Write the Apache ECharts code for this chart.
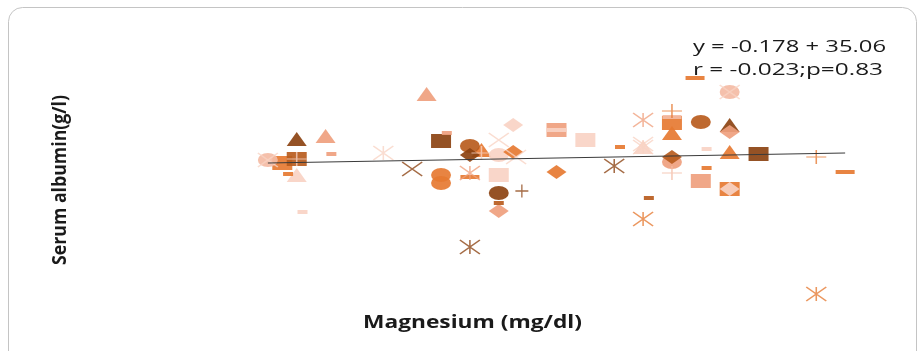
<!DOCTYPE html>
<html>
<head>
<meta charset="utf-8">
<style>
  html, body { margin: 0; padding: 0; background: #fff; }
  #chart { width: 919px; height: 351px; }
</style>
<script src="https://cdn.jsdelivr.net/npm/echarts@6/dist/echarts.min.js"></script>
</head>
<body>
<div id="chart"></div>
<script>
// points grouped by colour + marker; [magnesium mg/dl, serum albumin g/l]
const brownTriangle = [[1.70, 37.1], [3.20, 38.5]];
const brownSquare = [[2.20, 36.9], [3.30, 35.6]];
const brownDiamond = [[2.30, 35.5]];
const brownCircle = [[2.40, 31.7]];
const brownPlus = [[2.48, 31.9]];
const brownX = [[2.10, 34.1]];
const brownStar = [[2.80, 34.4], [2.30, 26.3]];

const dkOrangeCircle = [[2.30, 36.4], [3.10, 38.8]];
const dkOrangeSquare = [[1.70, 35.1]];
const dkOrangeDash = [[2.40, 30.7], [2.92, 31.2]];
const dkOrangeDiamond = [[3.00, 35.3]];

const orangeSquare = [[1.65, 34.7], [3.00, 38.7], [3.20, 32.1]];
const orangeCircle = [[2.20, 33.5], [2.20, 32.7]];
const orangeTriangle = [[2.34, 36.0], [3.00, 37.7], [3.20, 35.8]];
const orangeDiamond = [[2.45, 35.8], [2.60, 33.8]];
const orangeDashSm = [[1.67, 33.6], [2.82, 36.3], [3.12, 34.2]];
const orangeDashLg = [[2.30, 33.3], [3.08, 43.2], [3.60, 33.8]];
const orangePlus = [[3.00, 39.9], [3.50, 35.3]];
const orangeStar = [[2.90, 29.1], [3.50, 21.6]];

const salmonTriangle = [[1.80, 37.4], [2.15, 41.6]];
const salmonSquare = [[2.60, 38.0], [3.10, 32.9]];
const salmonDiamond = [[3.20, 37.8], [2.40, 29.9]];
const salmonCircle = [[3.00, 34.8]];
const salmonDash = [[1.82, 35.6], [2.22, 37.7]];
const salmonStar = [[2.90, 39.0], [2.30, 33.7]];

const ltSalmonCircle = [[1.60, 35.0], [3.20, 41.8]];
const ltSalmonDash = [[3.00, 39.3]];
const ltSalmonPlus = [[3.00, 33.7]];

const pinkTriangle = [[1.70, 33.5], [2.90, 36.3]];
const pinkSquare = [[2.70, 37.0], [2.40, 33.5]];
const pinkDiamond = [[2.45, 38.5], [3.20, 32.1]];
const pinkCircle = [[2.40, 35.5]];
const pinkDash = [[1.72, 29.8], [3.12, 36.1]];
const pinkDashLg = [[2.60, 38.0]];
const pinkX = [[2.40, 37.0], [2.46, 35.3], [1.60, 35.0], [3.20, 41.8], [2.90, 36.6]];
const pinkStar = [[2.00, 35.7], [2.90, 36.3]];
const pinkPlus = [[1.70, 35.1], [2.34, 35.7]];

// fitted line y = -0.178 + 35.06
const trendX = [1.60, 3.60];
const trendY = [34.7, 35.7];

const eqLines = ['y = -0.178 + 35.06', 'r = -0.023;p=0.83'];
const xTitle = 'Magnesium (mg/dl)';
const yTitle = 'Serum albumin(g/l)';

const col = {
    brown: '#8C4312',
    dkOrange: '#B85C1E',
    orange: '#E67A32',
    salmon: '#EFA07E',
    ltSalmon: '#F4BBA4',
    pink: '#F8D3C4'
};
const X_PATH = 'path://M0,0L10,10M10,0L0,10';
const STAR_PATH = 'path://M0,0L10,10M10,0L0,10M5,0L5,10';
const PLUS_PATH = 'path://M5,0L5,10M0,5L10,5';

function pts(data, color, symbol, size) {
    return {
        type: 'scatter',
        data: data,
        symbol: symbol,
        symbolSize: size || [20, 14],
        itemStyle: {color: color, opacity: 0.92},
        emphasis: {disabled: true},
        z: 2
    };
}
function lines(data, color, path, size) {
    return {
        type: 'scatter',
        data: data,
        symbol: path,
        symbolSize: size || [20, 14],
        itemStyle: {color: 'rgba(0,0,0,0)', borderColor: color, borderWidth: 1.3, opacity: 0.78},
        emphasis: {disabled: true},
        z: 2
    };
}
const DASH_SM = [10, 4];
const DASH_LG = [19, 4];

const series = [
    pts(pinkSquare, col.pink, 'rect'),
    pts(salmonSquare, col.salmon, 'rect'),
    pts(pinkDashLg, col.pink, 'rect', DASH_LG),
    pts(orangeSquare, col.orange, 'rect'),
    pts(pinkDiamond, col.pink, 'diamond'),
    pts(brownSquare, col.brown, 'rect'),
    pts(dkOrangeSquare, col.dkOrange, 'rect'),
    pts(brownTriangle, col.brown, 'triangle'),
    pts(salmonDiamond, col.salmon, 'diamond'),
    pts(salmonTriangle, col.salmon, 'triangle'),
    pts(pinkTriangle, col.pink, 'triangle'),
    pts(orangeTriangle, col.orange, 'triangle'),
    pts(dkOrangeCircle, col.dkOrange, 'circle'),
    pts(brownDiamond, col.brown, 'diamond'),
    pts(orangeCircle, col.orange, 'circle'),
    pts(brownCircle, col.brown, 'circle'),
    pts(salmonCircle, col.salmon, 'circle'),
    pts(dkOrangeDiamond, col.dkOrange, 'diamond'),
    pts(ltSalmonCircle, col.ltSalmon, 'circle'),
    pts(pinkCircle, col.pink, 'circle'),
    pts(orangeDiamond, col.orange, 'diamond'),
    pts(orangeDashSm, col.orange, 'rect', DASH_SM),
    pts(orangeDashLg, col.orange, 'rect', DASH_LG),
    pts(dkOrangeDash, col.dkOrange, 'rect', DASH_SM),
    pts(salmonDash, col.salmon, 'rect', DASH_SM),
    pts(ltSalmonDash, col.ltSalmon, 'rect', DASH_LG),
    pts(pinkDash, col.pink, 'rect', DASH_SM),
    lines(brownPlus, col.brown, PLUS_PATH, [13, 13]),
    lines(orangePlus, col.orange, PLUS_PATH),
    lines(ltSalmonPlus, col.ltSalmon, PLUS_PATH),
    lines(pinkPlus, col.pink, PLUS_PATH),
    lines(brownX, col.brown, X_PATH),
    lines(pinkX, col.pink, X_PATH),
    lines(brownStar, col.brown, STAR_PATH),
    lines(orangeStar, col.orange, STAR_PATH),
    lines(salmonStar, col.salmon, STAR_PATH),
    lines(pinkStar, col.pink, STAR_PATH),
    {
        type: 'line',
        data: trendX.map((x, i) => [x, trendY[i]]),
        symbol: 'none',
        lineStyle: {color: '#3a3a3a', width: 1.2},
        emphasis: {disabled: true},
        z: 3
    }
];

// the original picture is stretched sideways, so texts get fitted widths
const ctx = document.createElement('canvas').getContext('2d');
function fit(text, font, target) {
    ctx.font = font;
    return target / ctx.measureText(text).width;
}
const EQ_FONT = '17px "Open Sans"';
const XT_FONT = 'bold 17px "Open Sans"';
const YT_FONT = 'bold 14px "Open Sans"';

function label(text, font, x, y, target, extra) {
    return Object.assign({
        type: 'text',
        x: x,
        y: y,
        scaleX: fit(text, font, target),
        style: {text: text, font: font, fill: '#1a1a1a', textAlign: 'left', textVerticalAlign: 'middle'},
        z: 10
    }, extra || {});
}

const option = {
    animation: false,
    grid: {left: 239, right: 45, top: 60, bottom: 41},
    xAxis: {type: 'value', min: 1.5, max: 3.7, show: false},
    yAxis: {type: 'value', min: 20, max: 45, show: false},
    graphic: [
        {
            type: 'rect',
            shape: {x: 8.5, y: 7.5, width: 908, height: 380, r: 14},
            style: {fill: 'none', stroke: '#c4c4c4', lineWidth: 1},
            z: 0
        },
        label(eqLines[0], EQ_FONT, 693, 47, 193),
        label(eqLines[1], EQ_FONT, 693, 70, 190),
        label(xTitle, XT_FONT, 363, 323, 219),
        {
            type: 'text',
            x: 61,
            y: 180,
            rotation: Math.PI / 2,
            scaleX: fit(yTitle, YT_FONT, 170),
            scaleY: 1.35,
            style: {text: yTitle, font: YT_FONT, fill: '#1a1a1a', textAlign: 'center', textVerticalAlign: 'middle'},
            z: 10
        }
    ],
    series: series
};

const chart = echarts.init(document.getElementById('chart'));
chart.setOption(option);
</script>
</body>
</html>
